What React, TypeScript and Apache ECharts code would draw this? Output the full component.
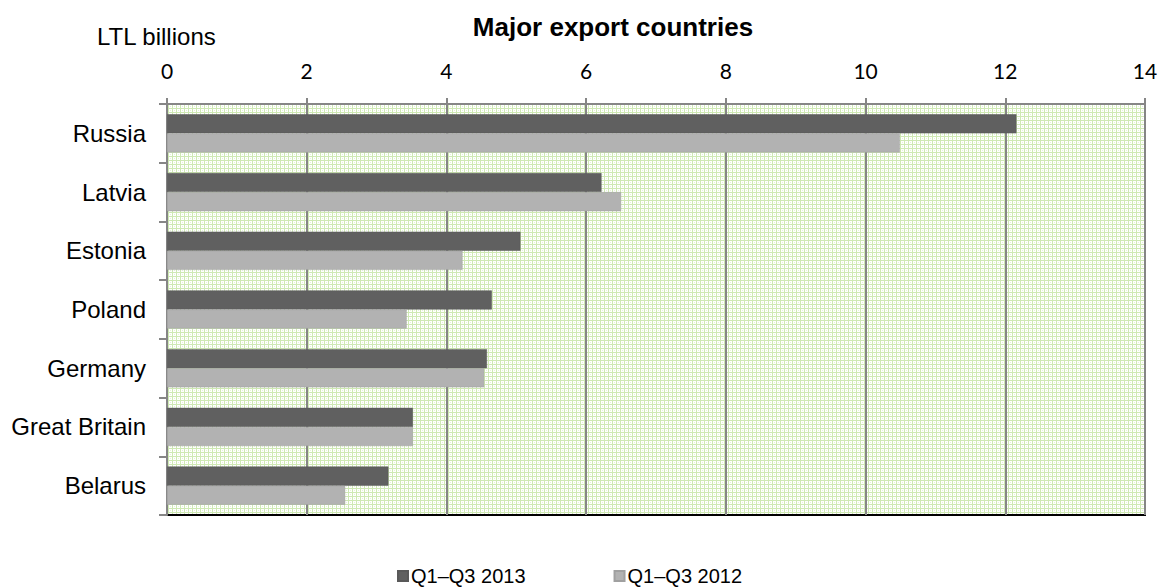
import React, { useEffect, useRef } from "react";
import * as echarts from "echarts";

const categories = ["Russia", "Latvia", "Estonia", "Poland", "Germany", "Great Britain", "Belarus"];
const series2013 = [12.16, 6.22, 5.06, 4.65, 4.58, 3.52, 3.17];
const series2012 = [10.49, 6.5, 4.23, 3.43, 4.54, 3.52, 2.55];
const seriesNames = ["Q1–Q3 2013", "Q1–Q3 2012"];
const xTicks = { min: 0, max: 14, interval: 2 };

function makePattern(): HTMLCanvasElement {
  const c = document.createElement("canvas");
  c.width = 4;
  c.height = 4;
  const ctx = c.getContext("2d")!;
  ctx.fillStyle = "#ffffff";
  ctx.fillRect(0, 0, 4, 4);
  ctx.fillStyle = "#cfe9b4";
  ctx.fillRect(0, 0, 4, 1);
  ctx.fillRect(0, 0, 1, 4);
  ctx.fillStyle = "#e6f4d8";
  ctx.fillRect(2, 2, 1, 1);
  return c;
}

export default function App() {
  const ref = useRef<HTMLDivElement>(null);
  useEffect(() => {
    if (!ref.current) return;
    const chart = echarts.init(ref.current, undefined, { renderer: "svg" });
    const pattern = makePattern();
    chart.setOption({
      animation: false,
      backgroundColor: "#ffffff",
      title: {
        text: "Major export countries",
        left: 608,
        textAlign: "center",
        top: 9,
        textStyle: { fontFamily: "Liberation Sans, Arial", fontSize: 26, fontWeight: "bold", color: "#000" },
      },
      graphic: [
        {
          type: "text",
          left: 97,
          top: 24,
          style: { text: "LTL billions", font: "24px 'Liberation Sans', Arial", fill: "#000" },
        },
      ],
      legend: {
        top: 566,
        left: 397,
        padding: 0,
        itemWidth: 10,
        itemHeight: 10,
        itemGap: 88,
        icon: "rect",
        textStyle: { fontFamily: "Liberation Sans, Arial", fontSize: 20, lineHeight: 20, color: "#000", padding: [0, 0, 0, -2] },
        data: seriesNames,
      },
      grid: {
        left: 167,
        right: 22,
        top: 104,
        bottom: 73,
        show: true,
        backgroundColor: { image: pattern, repeat: "repeat" },
        borderColor: "#000",
        borderWidth: 2,
      },
      xAxis: {
        type: "value",
        position: "top",
        min: xTicks.min,
        max: xTicks.max,
        interval: xTicks.interval,
        axisLine: { show: true, lineStyle: { color: "#868686", width: 2 } },
        axisTick: { show: true, length: 6, lineStyle: { color: "#868686", width: 2 } },
        splitLine: { show: true, lineStyle: { color: "#868686", width: 2 } },
        axisLabel: { fontFamily: "Lato, 'Open Sans', sans-serif", fontSize: 21, color: "#000", margin: 23 },
      },
      yAxis: {
        type: "category",
        inverse: true,
        data: categories,
        axisLine: { show: true, lineStyle: { color: "#868686", width: 2 } },
        axisTick: { show: true, length: 8, lineStyle: { color: "#868686", width: 2 } },
        axisLabel: { fontFamily: "Liberation Sans, Arial", fontSize: 24, color: "#000", margin: 21 },
      },
      series: [
        {
          name: seriesNames[0],
          type: "bar",
          data: series2013,
          barGap: "0%",
          barCategoryGap: "35%",
          itemStyle: { color: "#606060", borderColor: "#595959", borderWidth: 0.5 },
        },
        {
          name: seriesNames[1],
          type: "bar",
          data: series2012,
          itemStyle: { color: "#b2b2b2", borderColor: "#a0a0a0", borderWidth: 0.5 },
        },
      ],
    });
    return () => chart.dispose();
  }, []);
  return <div ref={ref} style={{ width: 1167, height: 588, position: "absolute", left: 0, top: 0 }} />;
}
